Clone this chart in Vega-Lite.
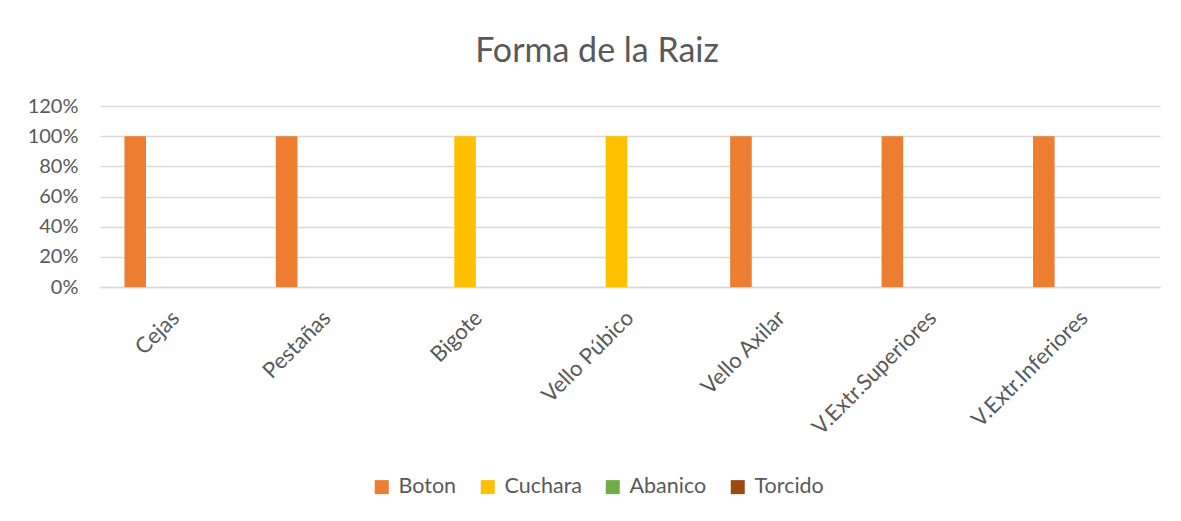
{
  "$schema": "https://vega.github.io/schema/vega-lite/v6.json",
  "width": 1060,
  "height": 181,
  "autosize": {"type": "none"},
  "padding": {"left": 100, "top": 106, "right": 21, "bottom": 234},
  "background": "white",
  "title": {
    "text": "Forma de la Raiz",
    "font": "Lato",
    "fontSize": 34,
    "fontWeight": "normal",
    "color": "#595959",
    "anchor": "middle",
    "dx": -33,
    "offset": 27
  },
  "data": {
    "values": [
      {"parte": "Cejas", "forma": "Boton", "valor": 1},
      {"parte": "Cejas", "forma": "Cuchara", "valor": 0},
      {"parte": "Cejas", "forma": "Abanico", "valor": 0},
      {"parte": "Cejas", "forma": "Torcido", "valor": 0},
      {"parte": "Pestañas", "forma": "Boton", "valor": 1},
      {"parte": "Pestañas", "forma": "Cuchara", "valor": 0},
      {"parte": "Pestañas", "forma": "Abanico", "valor": 0},
      {"parte": "Pestañas", "forma": "Torcido", "valor": 0},
      {"parte": "Bigote", "forma": "Boton", "valor": 0},
      {"parte": "Bigote", "forma": "Cuchara", "valor": 1},
      {"parte": "Bigote", "forma": "Abanico", "valor": 0},
      {"parte": "Bigote", "forma": "Torcido", "valor": 0},
      {"parte": "Vello Púbico", "forma": "Boton", "valor": 0},
      {"parte": "Vello Púbico", "forma": "Cuchara", "valor": 1},
      {"parte": "Vello Púbico", "forma": "Abanico", "valor": 0},
      {"parte": "Vello Púbico", "forma": "Torcido", "valor": 0},
      {"parte": "Vello Axilar", "forma": "Boton", "valor": 1},
      {"parte": "Vello Axilar", "forma": "Cuchara", "valor": 0},
      {"parte": "Vello Axilar", "forma": "Abanico", "valor": 0},
      {"parte": "Vello Axilar", "forma": "Torcido", "valor": 0},
      {"parte": "V.Extr.Superiores", "forma": "Boton", "valor": 1},
      {"parte": "V.Extr.Superiores", "forma": "Cuchara", "valor": 0},
      {"parte": "V.Extr.Superiores", "forma": "Abanico", "valor": 0},
      {"parte": "V.Extr.Superiores", "forma": "Torcido", "valor": 0},
      {"parte": "V.Extr.Inferiores", "forma": "Boton", "valor": 1},
      {"parte": "V.Extr.Inferiores", "forma": "Cuchara", "valor": 0},
      {"parte": "V.Extr.Inferiores", "forma": "Abanico", "valor": 0},
      {"parte": "V.Extr.Inferiores", "forma": "Torcido", "valor": 0}
    ]
  },
  "mark": {"type": "bar"},
  "encoding": {
    "x": {
      "field": "parte",
      "type": "nominal",
      "sort": null,
      "title": null,
      "scale": {"paddingInner": 0.287, "paddingOuter": 0.1435},
      "axis": {
        "labelAngle": -45,
        "labelAlign": "right",
        "labelBaseline": "middle",
        "labelFont": "Lato",
        "labelFontSize": 22,
        "labelColor": "#595959",
        "labelPadding": 27,
        "ticks": false,
        "domain": true,
        "domainColor": "#d9d9d9",
        "domainWidth": 1.5,
        "grid": false
      }
    },
    "xOffset": {
      "field": "forma",
      "type": "nominal",
      "sort": ["Boton", "Cuchara", "Abanico", "Torcido"],
      "scale": {"paddingInner": 0.2, "paddingOuter": 0.1}
    },
    "y": {
      "field": "valor",
      "type": "quantitative",
      "title": null,
      "scale": {"domain": [0, 1.2], "nice": false},
      "axis": {
        "values": [0, 0.2, 0.4, 0.6, 0.8, 1, 1.2],
        "format": ".0%",
        "labelFont": "Lato",
        "labelFontSize": 20,
        "labelColor": "#595959",
        "labelPadding": 22,
        "ticks": false,
        "domain": false,
        "grid": true,
        "gridColor": "#d9d9d9",
        "gridWidth": 1.5
      }
    },
    "color": {
      "field": "forma",
      "type": "nominal",
      "sort": ["Boton", "Cuchara", "Abanico", "Torcido"],
      "title": null,
      "scale": {
        "domain": ["Boton", "Cuchara", "Abanico", "Torcido"],
        "range": ["#ED7D31", "#FFC000", "#70AD47", "#9E480E"]
      },
      "legend": {
        "orient": "none",
        "direction": "horizontal",
        "legendX": 271,
        "legendY": 370,
        "symbolType": "square",
        "symbolSize": 196,
        "symbolStrokeWidth": 0,
        "labelFont": "Lato",
        "labelFontSize": 21.5,
        "labelColor": "#595959",
        "labelOffset": 6,
        "columnPadding": 20,
        "padding": 0
      }
    }
  },
  "config": {
    "view": {"stroke": null}
  }
}
